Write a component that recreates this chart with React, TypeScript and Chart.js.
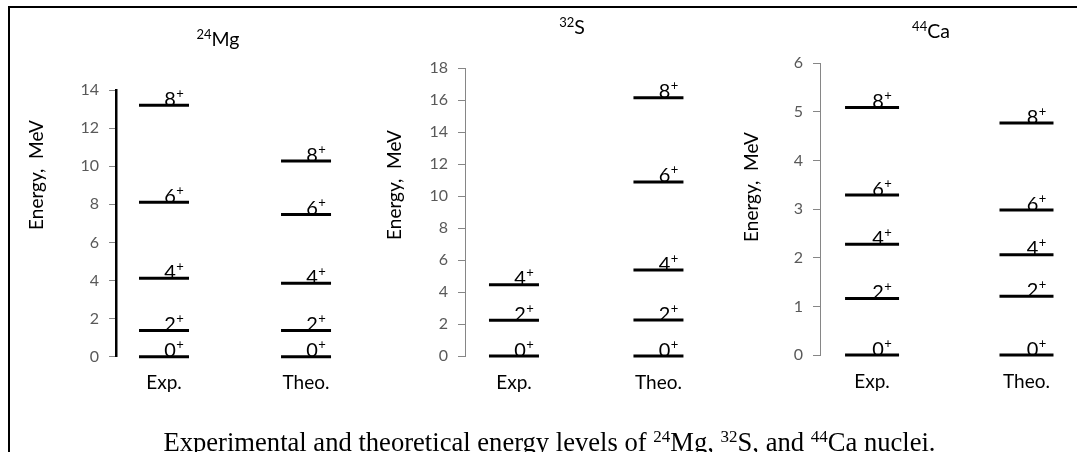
import React, { useEffect, useRef } from "react";
import { Chart, registerables } from "chart.js";

Chart.register(...registerables);

// ---------- data ----------
const categories = ["Exp.", "Theo."];
const spins = ["0", "2", "4", "6", "8"];

const mg24Exp = [0, 1.37, 4.12, 8.11, 13.2];
const mg24Theo = [0, 1.37, 3.85, 7.47, 10.27];

const s32Exp = [0, 2.23, 4.46, null, null];
const s32Theo = [0, 2.25, 5.38, 10.89, 16.16];

const ca44Exp = [0, 1.16, 2.28, 3.29, 5.09];
const ca44Theo = [0, 1.21, 2.06, 2.98, 4.77];

const mg24Ticks = { min: 0, max: 14, step: 2 };
const s32Ticks = { min: 0, max: 18, step: 2 };
const ca44Ticks = { min: 0, max: 6, step: 1 };

const axisTitle = "Energy,  MeV";
const FONT = "Lato, 'Open Sans', sans-serif";

// ---------- plugins ----------
const levelLabelPlugin = {
  id: "levelLabels",
  afterDatasetsDraw(chart: any) {
    const ctx = chart.ctx;
    ctx.save();
    ctx.fillStyle = "#000";
    ctx.textBaseline = "alphabetic";
    chart.data.datasets.forEach((ds: any, di: number) => {
      const meta = chart.getDatasetMeta(di);
      meta.data.forEach((el: any, i: number) => {
        const raw = ds.data[i];
        if (!raw || raw.y == null) return;
        ctx.font = `20px ${FONT}`;
        const dw = ctx.measureText(raw.s).width;
        const cx = el.x + 6;
        ctx.textAlign = "left";
        ctx.fillText(raw.s, cx - dw / 2, el.y + 0.5);
        ctx.font = `13px ${FONT}`;
        ctx.fillText("+", cx + dw / 2 + 0.5, el.y - 7.5);
      });
    });
    ctx.restore();
  },
};

const panelTextPlugin = {
  id: "panelText",
  afterDraw(chart: any, _args: any, opts: any) {
    const ctx = chart.ctx;
    ctx.save();
    ctx.fillStyle = "#000";
    const t = opts.title;
    if (t) {
      ctx.textBaseline = "alphabetic";
      ctx.textAlign = "left";
      ctx.font = `${t.supSize}px ${FONT}`;
      const sw = ctx.measureText(t.sup).width;
      ctx.font = `${t.size}px ${FONT}`;
      const mw = ctx.measureText(t.main).width;
      const x0 = t.x - (sw + mw) / 2;
      ctx.fillText(t.main, x0 + sw, t.y);
      ctx.font = `${t.supSize}px ${FONT}`;
      ctx.fillText(t.sup, x0, t.y - t.size * 0.36);
    }
    const a = opts.axisTitle;
    if (a) {
      ctx.translate(a.x, a.y);
      ctx.rotate(-Math.PI / 2);
      ctx.textAlign = "center";
      ctx.textBaseline = "middle";
      ctx.font = `${a.size}px ${FONT}`;
      ctx.fillText(a.text, 0, 0);
    }
    ctx.restore();
  },
};

// ---------- helpers ----------
function levelPoints(vals: (number | null)[], catIndex: number) {
  return vals
    .map((v, i) => ({ x: catIndex + 1, y: v, s: spins[i] }))
    .filter((p) => p.y != null);
}

type PanelCfg = {
  exp: (number | null)[];
  theo: (number | null)[];
  ticks: { min: number; max: number; step: number };
  xMin: number;
  xMax: number;
  yAxisWidth: number;
  padTop: number;
  padBottom: number;
  radius: number;
  axisColor: string;
  axisWidth: number;
  title: any;
  axisTitlePos: { x: number; y: number };
};

function Panel({ cfg, left, width }: { cfg: PanelCfg; left: number; width: number }) {
  const ref = useRef<HTMLCanvasElement | null>(null);
  useEffect(() => {
    if (!ref.current) return;
    const mk = (vals: (number | null)[], ci: number) => ({
      label: categories[ci],
      data: levelPoints(vals, ci),
      clip: false,
      pointStyle: "line",
      pointRadius: cfg.radius,
      pointHoverRadius: cfg.radius,
      pointBorderWidth: 3,
      pointHoverBorderWidth: 3,
      borderColor: "#000",
      backgroundColor: "#000",
    });
    const chart = new Chart(ref.current, {
      type: "scatter",
      data: { datasets: [mk(cfg.exp, 0), mk(cfg.theo, 1)] as any },
      options: {
        animation: false,
        responsive: false,
        events: [],
        layout: {
          autoPadding: false,
          padding: { top: cfg.padTop, bottom: cfg.padBottom, left: 0, right: 0 },
        },
        plugins: {
          legend: { display: false },
          tooltip: { enabled: false },
          panelText: {
            title: cfg.title,
            axisTitle: { text: axisTitle, size: 19, x: cfg.axisTitlePos.x, y: cfg.axisTitlePos.y },
          },
        } as any,
        scales: {
          x: {
            type: "linear",
            min: cfg.xMin,
            max: cfg.xMax,
            afterBuildTicks: (s: any) => {
              s.ticks = categories.map((_, i) => ({ value: i + 1 }));
            },
            afterFit: (s: any) => {
              s.height = 40;
            },
            ticks: {
              autoSkip: false,
              maxRotation: 0,
              padding: 15,
              color: "#000",
              font: { family: FONT, size: 19 },
              callback: (_v: any, i: number) => categories[i],
            },
            grid: { display: false, drawTicks: false },
            border: { display: false },
          },
          y: {
            type: "linear",
            min: cfg.ticks.min,
            max: cfg.ticks.max,
            afterFit: (s: any) => {
              s.width = cfg.yAxisWidth;
            },
            ticks: {
              stepSize: cfg.ticks.step,
              color: "#595959",
              padding: 10,
              font: { family: FONT, size: 16 },
            },
            grid: {
              display: true,
              drawOnChartArea: false,
              drawTicks: true,
              tickLength: 7,
              color: "#868686",
              lineWidth: 1,
            },
            border: { display: true, color: cfg.axisColor, width: cfg.axisWidth },
          },
        },
      } as any,
      plugins: [levelLabelPlugin, panelTextPlugin],
    });
    let alive = true;
    (document as any).fonts?.ready?.then(() => {
      if (alive) chart.update();
    });
    return () => {
      alive = false;
      chart.destroy();
    };
  }, [cfg]);
  return (
    <canvas
      ref={ref}
      width={width}
      height={452}
      style={{ position: "absolute", left, top: 0, width, height: 452 }}
    />
  );
}

const mgCfg: PanelCfg = {
  exp: mg24Exp,
  theo: mg24Theo,
  ticks: mg24Ticks,
  xMin: 0.662,
  xMax: 2.38,
  yAxisWidth: 116,
  padTop: 90,
  padBottom: 55.3,
  radius: 25,
  axisColor: "#000",
  axisWidth: 2.5,
  title: { sup: "24", main: "Mg", x: 218, y: 46, size: 19.5, supSize: 13 },
  axisTitlePos: { x: 37, y: 175 },
};

const sCfg: PanelCfg = {
  exp: s32Exp,
  theo: s32Theo,
  ticks: s32Ticks,
  xMin: 0.661,
  xMax: 2.426,
  yAxisWidth: 105,
  padTop: 68.3,
  padBottom: 56,
  radius: 25,
  axisColor: "#868686",
  axisWidth: 1,
  title: { sup: "32", main: "S", x: 212, y: 34, size: 19.5, supSize: 13 },
  axisTitlePos: { x: 35, y: 185 },
};

const caCfg: PanelCfg = {
  exp: ca44Exp,
  theo: ca44Theo,
  ticks: ca44Ticks,
  xMin: 0.663,
  xMax: 2.327,
  yAxisWidth: 103,
  padTop: 63.3,
  padBottom: 57,
  radius: 27,
  axisColor: "#868686",
  axisWidth: 1,
  title: { sup: "44", main: "Ca", x: 214, y: 38, size: 19.5, supSize: 13 },
  axisTitlePos: { x: 35, y: 187 },
};

export default function App() {
  const supStyle: React.CSSProperties = { fontSize: 17, verticalAlign: "9px", lineHeight: 0 };
  return (
    <div
      style={{
        position: "absolute",
        left: 0,
        top: 0,
        width: 1077,
        height: 452,
        overflow: "hidden",
        background: "#fff",
      }}
    >
      <div
        style={{
          position: "absolute",
          left: 8,
          top: 6,
          width: 2000,
          height: 2000,
          borderTop: "2px solid #000",
          borderLeft: "2px solid #000",
        }}
      />
      <Panel cfg={mgCfg} left={0} width={360} />
      <Panel cfg={sCfg} left={360} width={360} />
      <Panel cfg={caCfg} left={717} width={360} />
      <div
        style={{
          position: "absolute",
          left: 0,
          top: 428.5,
          width: 1099,
          textAlign: "center",
          fontFamily: "'Liberation Serif', 'Times New Roman', serif",
          fontSize: 26.6,
          lineHeight: "26px",
          color: "#000",
          whiteSpace: "nowrap",
        }}
      >
        Experimental and theoretical energy levels of <sup style={supStyle}>24</sup>Mg,{" "}
        <sup style={supStyle}>32</sup>S, and <sup style={supStyle}>44</sup>Ca nuclei.
      </div>
    </div>
  );
}
